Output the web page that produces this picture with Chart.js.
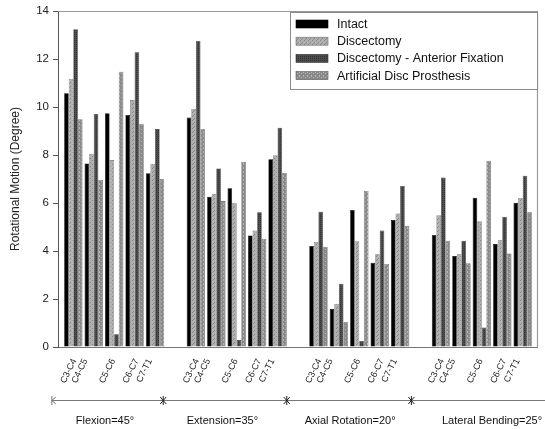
<!DOCTYPE html>
<html><head><meta charset="utf-8">
<script src="https://cdn.jsdelivr.net/npm/chart.js@4/dist/chart.umd.min.js"></script>
<style>html,body{margin:0;padding:0;background:#fff}#wrap{width:545px;height:429px}</style>
</head><body><div id="wrap"><canvas id="c" width="545" height="429"></canvas></div>
<script>
const levels = ['C3-C4','C4-C5','C5-C6','C6-C7','C7-T1'];
const motions = ['Flexion=45°','Extension=35°','Axial Rotation=20°','Lateral Bending=25°'];
const seriesNames = ['Intact','Discectomy','Discectomy - Anterior Fixation','Artificial Disc Prosthesis'];
// values per motion, per level
const intact = [
  [10.57, 7.65, 9.74, 9.67, 7.24],
  [9.56, 6.26, 6.61, 4.65, 7.82],
  [4.21, 1.58, 5.71, 3.51, 5.29],
  [4.67, 3.79, 6.22, 4.29, 6.01]
];
const discectomy = [
  [11.17, 8.05, 7.79, 10.29, 7.64],
  [9.92, 6.38, 6.01, 4.85, 7.99],
  [4.38, 1.80, 4.43, 3.86, 5.56],
  [5.49, 3.86, 5.24, 4.46, 6.21]
];
const anteriorFixation = [
  [13.24, 9.71, 0.53, 12.28, 9.08],
  [12.75, 7.44, 0.29, 5.61, 9.14],
  [5.64, 2.64, 0.25, 4.85, 6.71],
  [7.06, 4.43, 0.81, 5.43, 7.14]
];
const prosthesis = [
  [9.49, 6.96, 11.47, 9.28, 7.00],
  [9.07, 6.08, 7.72, 4.50, 7.25],
  [4.18, 1.03, 6.50, 3.46, 5.05],
  [4.43, 3.49, 7.76, 3.90, 5.61]
];
const yTicks = [0,2,4,6,8,10,12,14];

// layout helpers (slot index for each level cluster; one empty slot between motions)
const slotsPerMotion = 6;
const labelShift = [0.05, -0.4, -0.05, 0.1, -0.25];
const starPos = [4.4, 10.45, 16.55];
const groupLabelPos = [1.55, 7.3, 13.55, 20.5];

function toPoints(arr){
  const pts=[];
  arr.forEach((row,m)=>row.forEach((v,l)=>pts.push({x:m*slotsPerMotion+l,y:v})));
  return pts;
}
const barTicks=[], labelTicks=[], tickText=[];
motions.forEach((_,m)=>levels.forEach((lv,l)=>{
  barTicks.push(m*slotsPerMotion+l);
  labelTicks.push(m*slotsPerMotion+l+labelShift[l]);
  tickText.push(lv);
}));

function pat(base, dot, kind){
  const c=document.createElement('canvas');c.width=4;c.height=4;
  const g=c.getContext('2d');g.fillStyle=base;g.fillRect(0,0,4,4);g.fillStyle=dot;
  if(kind===1){g.fillRect(0,0,1,1);g.fillRect(2,2,1,1);g.fillRect(1,3,1,1);}
  else if(kind===2){g.fillRect(0,0,1,1);g.fillRect(2,2,1,1);g.fillRect(2,0,1,1);g.fillRect(0,2,1,1);}
  else {g.fillRect(1,1,1,1);g.fillRect(3,3,1,1);g.fillRect(3,0,1,1);}
  return g.createPattern(c,'repeat');
}
const fills=['#000000', pat('#b0b0b0','#888888',1), pat('#4c4c4c','#333333',2), pat('#8a8a8a','#b4b4b4',3)];
const borders=['#000000','#6a6a6a','#303030','#555555'];
const allData=[intact,discectomy,anteriorFixation,prosthesis];

const extras={
  id:'extras',
  afterDraw(chart){
    const {ctx,chartArea:a,scales:{x}}=chart;
    ctx.save();
    // frame top/right
    ctx.strokeStyle='#9a9a9a';ctx.lineWidth=1.2;
    ctx.beginPath();ctx.moveTo(a.left,a.top+0.5);ctx.lineTo(a.right+0.5,a.top+0.5);ctx.lineTo(a.right+0.5,a.bottom);ctx.stroke();
    // legend
    const lx=290, ly=12, lw=247, lh=77;
    ctx.fillStyle='#fff';ctx.fillRect(lx,ly,lw,lh);
    ctx.strokeStyle='#8a8a8a';ctx.lineWidth=1;ctx.strokeRect(lx+0.5,ly+0.5,lw,lh);
    ctx.font='12.5px "Liberation Sans", Arial, sans-serif';ctx.textBaseline='middle';ctx.textAlign='left';
    seriesNames.forEach((n,i)=>{
      const cy=ly+12+i*17.2;
      ctx.fillStyle=fills[i];ctx.fillRect(296,cy-4,32,8);
      ctx.strokeStyle=borders[i];ctx.lineWidth=0.6;ctx.strokeRect(296,cy-4,32,8);
      ctx.fillStyle='#111';ctx.fillText(n,337,cy+0.5);
    });
    // group axis
    const gy=400;
    ctx.strokeStyle='#777';ctx.lineWidth=1;
    const x0=x.getPixelForValue(-1.05);
    ctx.beginPath();ctx.moveTo(x0,gy+0.5);ctx.lineTo(chart.width,gy+0.5);ctx.stroke();
    ctx.beginPath();ctx.moveTo(x0,gy-4);ctx.lineTo(x0,gy+5);ctx.moveTo(x0,gy+0.5);ctx.lineTo(x0+4,gy-3);ctx.moveTo(x0,gy+0.5);ctx.lineTo(x0+4,gy+4);ctx.stroke();
    ctx.strokeStyle='#222';
    starPos.forEach(p=>{const px=x.getPixelForValue(p);
      ctx.beginPath();ctx.moveTo(px,gy-4);ctx.lineTo(px,gy+5);ctx.moveTo(px-3,gy-3);ctx.lineTo(px+3,gy+4);ctx.moveTo(px+3,gy-3);ctx.lineTo(px-3,gy+4);ctx.stroke();});
    ctx.fillStyle='#111';ctx.font='11px "Liberation Sans", Arial, sans-serif';ctx.textAlign='center';ctx.textBaseline='alphabetic';
    motions.forEach((t,i)=>ctx.fillText(t,x.getPixelForValue(groupLabelPos[i]),424));
    ctx.restore();
  }
};

new Chart(document.getElementById('c'),{
  type:'bar',
  data:{datasets:seriesNames.map((n,i)=>({label:n,data:toPoints(allData[i]),backgroundColor:fills[i],borderColor:borders[i],borderWidth:0.6,categoryPercentage:0.9,barPercentage:1.0,xAxisID:'x'}))},
  options:{
    responsive:false,animation:false,
    layout:{padding:{top:11,right:8,left:8,bottom:0}},
    plugins:{legend:{display:false},tooltip:{enabled:false}},
    scales:{
      x:{type:'linear',min:-0.75,max:22.7,offset:false,display:false,
        afterBuildTicks(s){s.ticks=barTicks.map(v=>({value:v}));}
      },
      xl:{type:'linear',position:'bottom',min:-0.75,max:22.7,offset:false,
        afterBuildTicks(s){s.ticks=labelTicks.map(v=>({value:v}));},
        afterFit(s){s.height=82;},
        grid:{display:false},border:{display:true,color:'#777',width:1},
        ticks:{autoSkip:false,minRotation:64,maxRotation:64,padding:2,color:'#222',
          font:{family:'"Liberation Sans", Arial, sans-serif',size:9},
          callback:(v,i)=>tickText[i]}
      },
      y:{min:0,max:14,
        afterBuildTicks(s){s.ticks=yTicks.map(v=>({value:v}));},
        afterFit(s){s.width=50;},
        grid:{drawOnChartArea:false,drawTicks:true,tickLength:5,color:'#555'},
        border:{display:true,color:'#555',width:1},
        title:{display:true,text:'Rotational Motion (Degree)',color:'#222',padding:{top:0,bottom:2},font:{family:'"Liberation Sans", Arial, sans-serif',size:12}},
        ticks:{color:'#222',padding:4,font:{family:'"Liberation Sans", Arial, sans-serif',size:11.5}}
      }
    }
  },
  plugins:[extras]
});
</script></body></html>
